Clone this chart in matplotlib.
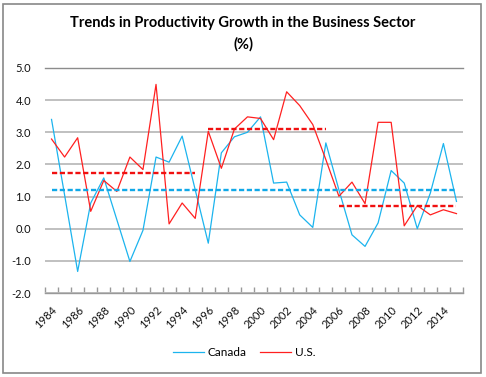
import matplotlib.pyplot as plt
from matplotlib.patches import Rectangle

plt.rcParams['font.family'] = ['Lato', 'DejaVu Sans']

# data
years = list(range(1984, 2016))
canada = [3.40, 1.05, -1.33, 0.80, 1.58, 0.28, -1.02, -0.05, 2.23, 2.07, 2.88, 1.21,
          -0.45, 2.36, 2.86, 3.00, 3.48, 1.42, 1.45, 0.43, 0.04, 2.67, 1.21, -0.19,
          -0.55, 0.18, 1.81, 1.42, 0.00, 1.11, 2.65, 0.85]
us = [2.79, 2.23, 2.83, 0.54, 1.50, 1.16, 2.23, 1.84, 4.49, 0.15, 0.80, 0.32,
      3.03, 1.88, 3.10, 3.48, 3.43, 2.77, 4.26, 3.83, 3.24, 2.15, 1.01, 1.45,
      0.78, 3.31, 3.31, 0.09, 0.72, 0.43, 0.59, 0.47]

# period averages (dashed)
canada_avg = 1.22
us_periods = [(1984, 1995), (1996, 2005), (2006, 2015)]
us_period_avg = [1.73, 3.10, 0.72]

yticks = [-2.0, -1.0, 0.0, 1.0, 2.0, 3.0, 4.0, 5.0]

blue = '#1CB4EE'
red = '#FF2020'

fig = plt.figure(figsize=(4.86, 3.77), dpi=100)
ax = fig.add_axes([45 / 486, 1 - 293 / 377, 418 / 486, 225 / 377])

x = list(range(len(years)))
ax.plot(x, canada, color=blue, lw=0.9, label='Canada')
ax.plot(x, us, color=red, lw=0.9, label='U.S.')

# average lines
ax.plot([0, len(years) - 1], [canada_avg, canada_avg], color='#10A8E8', lw=1.7,
        dashes=(2.2, 1.1))
for (y0, y1), v in zip(us_periods, us_period_avg):
    ax.plot([years.index(y0), years.index(y1)], [v, v], color='#F01010', lw=1.7,
            dashes=(2.2, 1.1))

ax.set_xlim(-0.5, len(years) - 0.5)
ax.set_ylim(-2, 5)
ax.set_yticks(yticks)
ax.set_yticklabels([f'{v:.1f}' for v in yticks], fontsize=8, color='#111111')
ax.tick_params(axis='y', length=0, pad=10)
ax.grid(axis='y', color='#BBBBBB', lw=1.3)
ax.set_axisbelow(True)
for s in ['left', 'right']:
    ax.spines[s].set_visible(False)
ax.spines['top'].set_color('#8C8C8C')
ax.spines['top'].set_linewidth(1.0)
ax.spines['bottom'].set_color('#999999')
ax.spines['bottom'].set_linewidth(1.0)

# tick marks between categories, labels every second year
ax.set_xticks([i - 0.5 for i in range(len(years) + 1)])
ax.set_xticklabels([])
ax.tick_params(axis='x', which='major', direction='in', length=4, color='#999999', width=1.0)
lab_pos = [i for i in x if i % 2 == 0]
ax.set_xticks(lab_pos, minor=True)
ax.set_xticklabels([str(years[i]) for i in lab_pos], minor=True, rotation=45,
                   ha='right', va='top', rotation_mode='anchor', fontsize=8,
                   color='#111111')
ax.tick_params(axis='x', which='minor', length=0, pad=8)

fig.text(0.5, 1 - 23 / 377, 'Trends in Productivity Growth in the Business Sector',
         ha='center', va='center', fontsize=10.5, fontweight='bold')
fig.text(0.5, 1 - 44 / 377, '(%)', ha='center', va='center', fontsize=10.5,
         fontweight='bold')

fig.legend(loc='center', bbox_to_anchor=(244 / 486, 1 - 353 / 377), ncol=2,
           frameon=False, fontsize=8.5, handlelength=2.6, columnspacing=1.2,
           handletextpad=0.3)

fig.patches.append(Rectangle((3 / 486, 4 / 377), 478 / 486, 369 / 377,
                             transform=fig.transFigure, fill=False,
                             edgecolor='#888888', lw=1.2))

fig.savefig('out.png', dpi=100)
